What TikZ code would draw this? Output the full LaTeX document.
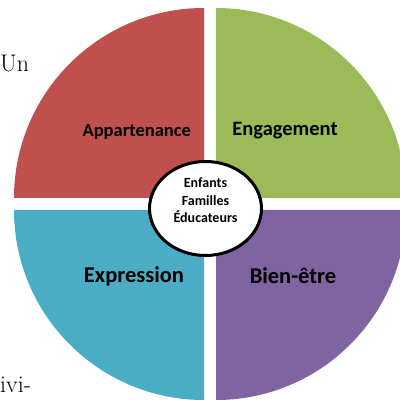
\documentclass[tikz,border=0pt]{standalone}
\usepackage{fontspec}
\newfontfamily\calib{Carlito}
\usepackage{tikz}
\usetikzlibrary{shapes.geometric,positioning}

\definecolor{appred}{HTML}{C0504D}
\definecolor{enggreen}{HTML}{9BBB59}
\definecolor{expblue}{HTML}{4BACC6}
\definecolor{bienpurple}{HTML}{8064A2}

\tikzset{
  quarter/.style={draw=none},
  pillar/.style={inner sep=0pt, text=black, font=\calib\bfseries},
  hub/.style={ellipse, draw=black, line width=3pt, fill=white, minimum width=112pt, minimum height=94pt, inner sep=0pt},
  pagetext/.style={inner sep=0pt, font=\fontsize{24}{24}\selectfont}
}

\begin{document}
\begin{tikzpicture}[x=1pt, y=1pt]
  \clip (0,0) rectangle (400,400);
  % Define quarters
  \fill[quarter, appred] (204,202) -- ++(-190,0) arc[start angle=180, end angle=90, radius=190] -- cycle;
  \fill[quarter, enggreen] (216,202) -- ++(0,190) arc[start angle=90, end angle=0, radius=190] -- cycle;
  \fill[quarter, expblue] (204,190) -- ++(0,-190) arc[start angle=270, end angle=180, radius=190] -- cycle;
  \fill[quarter, bienpurple] (216,190) -- ++(190,0) arc[start angle=0, end angle=-90, radius=190] -- cycle;
  % labels of the quarters
  \node[pillar, font=\calib\bfseries\fontsize{18.5}{20}\selectfont] (appartenance) at (136.7,268.5) {Appartenance};
  \node[pillar, font=\calib\bfseries\fontsize{20.5}{22}\selectfont] (engagement) at (285,269) {Engagement};
  \node[pillar, font=\calib\bfseries\fontsize{22.5}{24}\selectfont] (expression) at (134,124) {Expression};
  \node[pillar, font=\calib\bfseries\fontsize{22.5}{24}\selectfont] (bienetre) at (293,124) {Bien-être};
  % centre
  \node[hub] (centre) at (205.5,191.5) {};
  \node[pillar, align=center, font=\calib\bfseries\fontsize{14}{17.5}\selectfont, above=-1pt of centre.center, anchor=center, yshift=9pt] (groupes) {Enfants\\Familles\\Éducateurs};
  % text of the page around the figure
  \node[pagetext, anchor=base west] (un) at (0,328) {Un};
  \node[pagetext, anchor=base west] (ivi) at (0,7) {ivi-};
\end{tikzpicture}
\end{document}
